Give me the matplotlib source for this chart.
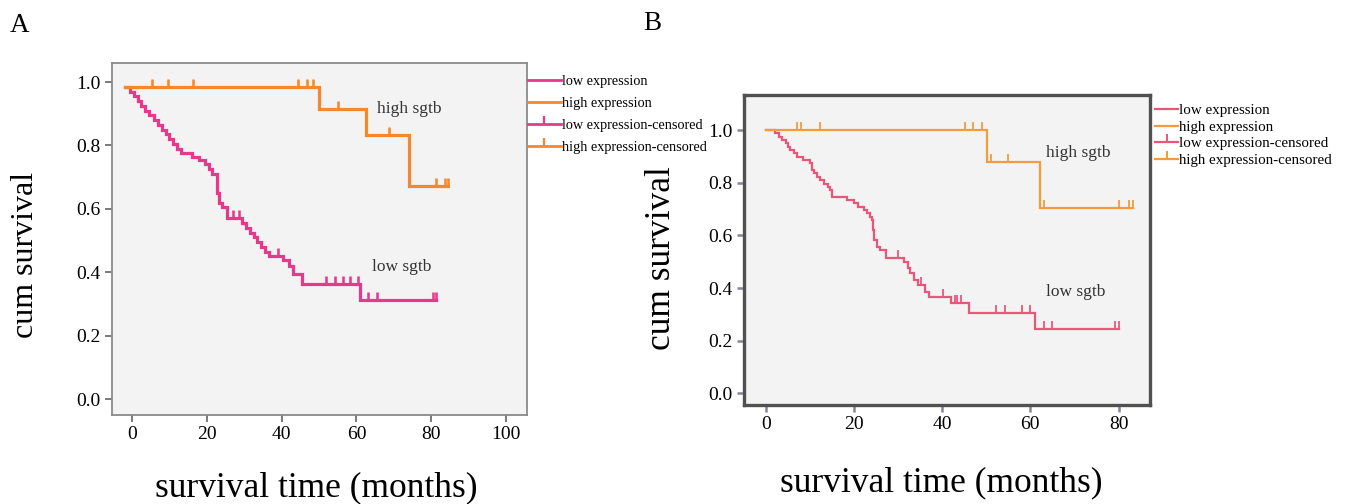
import numpy as np
import matplotlib
matplotlib.use("Agg")
import matplotlib.pyplot as plt
from matplotlib.lines import Line2D

plt.rcParams['font.family'] = ['Liberation Serif', 'DejaVu Serif']

# ---- panel A data ----
a_low_t = [-2, -0.5, 0.5, 1.5, 2.5, 3.5, 4.5, 6, 7, 8, 9, 10, 11, 12, 13, 16, 18, 19.5,
           20.5, 21.5, 22.6, 23.3, 24, 25.3, 29.5, 30.5, 31.5, 32.5, 33.5, 34.5, 35.5,
           36.5, 40.5, 42, 43.1, 45.4, 61, 81.3]
a_low_s = [0.985, 0.97, 0.955, 0.94, 0.925, 0.91, 0.895, 0.88, 0.865, 0.85, 0.835, 0.82,
           0.805, 0.79, 0.775, 0.765, 0.754, 0.74, 0.725, 0.71, 0.65, 0.62, 0.605, 0.57,
           0.555, 0.54, 0.525, 0.51, 0.495, 0.48, 0.465, 0.45, 0.44, 0.42, 0.395, 0.364,
           0.313, 0.313]
a_high_t = [-2, 50, 62.6, 74.1, 84.4]
a_high_s = [0.985, 0.914, 0.833, 0.671, 0.671]
a_low_cens = [27.1, 28.7, 39.1, 52, 54.3, 56.3, 58.3, 60.5, 63.2, 65.6, 80.6, 81.3]
a_high_cens = [5.3, 9.7, 16.2, 44.5, 46.7, 48.5, 55, 68.8, 81.3, 83.7, 84.4]

# ---- panel B data ----
b_low_t = [0, 2.1, 3, 3.6, 4.5, 5, 5.5, 6.3, 7.1, 8.5, 10.1, 10.5, 11, 11.7, 12.4, 13.2,
           14, 14.5, 15.1, 18.5, 20, 21, 22.3, 23, 23.6, 24.2, 24.3, 24.6, 25.3, 26, 27.2,
           31.4, 32.2, 32.8, 33.7, 34.5, 36, 37.1, 42.1, 46.1, 61.1, 80.1]
b_low_s = [1.0, 0.987, 0.975, 0.962, 0.95, 0.937, 0.924, 0.911, 0.899, 0.886, 0.873,
           0.848, 0.835, 0.822, 0.81, 0.797, 0.784, 0.772, 0.747, 0.734, 0.722, 0.709,
           0.696, 0.684, 0.671, 0.658, 0.62, 0.582, 0.557, 0.544, 0.513, 0.5, 0.475,
           0.456, 0.43, 0.411, 0.386, 0.365, 0.342, 0.304, 0.244, 0.244]
b_high_t = [0, 50.1, 62.1, 83.2]
b_high_s = [1.0, 0.88, 0.705, 0.705]
b_low_cens = [29.9, 35.2, 40.2, 42.8, 43.4, 44.3, 52.3, 54.2, 58, 60, 63, 64.9, 79.2, 80]
b_high_cens = [7.0, 8.1, 12.2, 45.1, 47, 49.1, 51, 55, 63, 80.1, 82.4, 83.2]

labels = ["low expression", "high expression",
          "low expression-censored", "high expression-censored"]


def surv_at(t, s, x):
    idx = np.searchsorted(t, x, side='right') - 1
    return np.array(s)[idx]


def km(ax, t, s, cens, color, lw, ms):
    ax.step(t, s, where='post', color=color, lw=lw, solid_joinstyle='miter')
    ax.plot(cens, surv_at(t, s, cens), ls='none', marker=2, ms=ms, mew=lw * 0.8,
            color=color)


fig = plt.figure(figsize=(13.46, 5.04), dpi=100)

# ---------- A ----------
low_a, high_a = '#e8388c', '#f5872c'
ax1 = fig.add_axes([0.0832, 0.1766, 0.3083, 0.6984])
ax1.set_facecolor('#f3f3f3')
km(ax1, a_low_t, a_low_s, a_low_cens, low_a, 2.3, 5.5)
km(ax1, a_high_t, a_high_s, a_high_cens, high_a, 2.3, 5.5)
ax1.set_xlim(-5.35, 105.6)
ax1.set_ylim(-0.05, 1.06)
ax1.set_xticks([0, 20, 40, 60, 80, 100])
ax1.set_yticks([0, 0.2, 0.4, 0.6, 0.8, 1.0])
ax1.set_yticklabels(['0.0', '0.2', '0.4', '0.6', '0.8', '1.0'])
for sp in ax1.spines.values():
    sp.set_color('#8a8a8a')
    sp.set_linewidth(1.3)
ax1.tick_params(colors='#707070', labelcolor='black', length=5, width=1.3,
                labelsize=14, pad=3)
ax1.text(65.5, 0.915, 'high sgtb', fontsize=12.5, color='#333333', va='center')
ax1.text(64.2, 0.416, 'low sgtb', fontsize=12.5, color='#333333', va='center')
fig.text(26 / 1346, 1 - 255 / 504, 'cum survival', rotation=90, fontsize=23,
         va='center', ha='center')
fig.text(316 / 1346, 1 - 488 / 504, 'survival time (months)', fontsize=25.5,
         ha='center', va='center')
fig.text(10 / 1346, 1 - 25 / 504, 'A', fontsize=19.5, va='center')

h_a = [Line2D([], [], color=low_a, lw=2),
       Line2D([], [], color=high_a, lw=2),
       Line2D([], [], color=low_a, lw=2, marker=2, ms=6, mew=1.6),
       Line2D([], [], color=high_a, lw=2, marker=2, ms=6, mew=1.6)]
fig.legend(h_a, labels, loc='upper left', bbox_to_anchor=(528 / 1346, 1 - 75 / 504),
           frameon=False, fontsize=10.3, handlelength=2.3, handletextpad=0.05,
           labelspacing=0.62, borderpad=0, borderaxespad=0)

# ---------- B ----------
low_b, high_b = '#e8577a', '#f59a3e'
ax2 = fig.add_axes([0.5527, 0.1964, 0.3016, 0.6151])
ax2.set_facecolor('#f3f3f3')
km(ax2, b_low_t, b_low_s, b_low_cens, low_b, 1.6, 6)
km(ax2, b_high_t, b_high_s, b_high_cens, high_b, 1.6, 6)
ax2.set_xlim(-4.95, 87.1)
ax2.set_ylim(-0.044, 1.133)
ax2.set_xticks([0, 20, 40, 60, 80])
ax2.set_yticks([0, 0.2, 0.4, 0.6, 0.8, 1.0])
ax2.set_yticklabels(['0.0', '0.2', '0.4', '0.6', '0.8', '1.0'])
for sp in ax2.spines.values():
    sp.set_color('#505050')
    sp.set_linewidth(2.4)
ax2.tick_params(colors='#8585a0', labelcolor='black', length=5, width=1.8,
                labelsize=14, pad=3)
ax2.text(63.5, 0.914, 'high sgtb', fontsize=12.5, color='#333333', va='center')
ax2.text(63.5, 0.386, 'low sgtb', fontsize=12.5, color='#333333', va='center')
fig.text(661.7 / 1346, 1 - 258 / 504, 'cum survival', rotation=90, fontsize=25.5,
         va='center', ha='center')
fig.text(941 / 1346, 1 - 483 / 504, 'survival time (months)', fontsize=25.5,
         ha='center', va='center')
fig.text(643 / 1346, 1 - 24 / 504, 'B', fontsize=19.5, va='center')

h_b = [Line2D([], [], color=low_b, lw=1.6),
       Line2D([], [], color=high_b, lw=1.6),
       Line2D([], [], color=low_b, lw=1.6, marker=2, ms=6, mew=1.4),
       Line2D([], [], color=high_b, lw=1.6, marker=2, ms=6, mew=1.4)]
fig.legend(h_b, labels, loc='upper left', bbox_to_anchor=(1155 / 1346, 1 - 104 / 504),
           frameon=False, fontsize=10.8, handlelength=1.55, handletextpad=0.05,
           labelspacing=0.2, borderpad=0, borderaxespad=0)

fig.savefig('out.png', dpi=100)
